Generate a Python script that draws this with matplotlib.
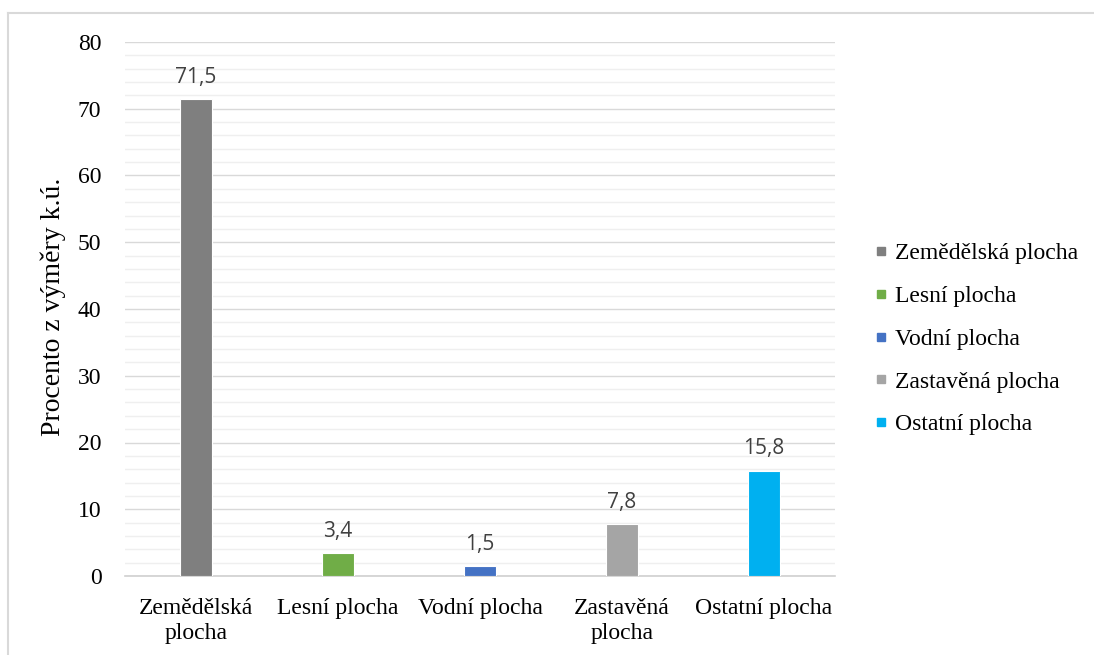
import matplotlib
matplotlib.use("Agg")
import matplotlib.pyplot as plt
from matplotlib.lines import Line2D
from matplotlib.ticker import MultipleLocator

# Land-use shares of the cadastral area (%)
categories = ["Zemědělská plocha", "Lesní plocha", "Vodní plocha",
              "Zastavěná plocha", "Ostatní plocha"]
tick_labels = ["Zemědělská\nplocha", "Lesní plocha", "Vodní plocha",
               "Zastavěná\nplocha", "Ostatní plocha"]
values = [71.5, 3.4, 1.5, 7.8, 15.8]
colors = ["#7f7f7f", "#70ad47", "#4472c4", "#a5a5a5", "#00b0f0"]

W, H = 1094, 655
fig = plt.figure(figsize=(W / 100, H / 100), dpi=100)
serif = "Liberation Serif"
label_font = "Open Sans"
FS = 17

ax = fig.add_axes([125 / W, 1 - 576 / H, (835 - 125) / W, (576 - 42) / H])

x = list(range(len(categories)))
ax.bar(x, values, width=0.225, color=colors, edgecolor="white",
       linewidth=0.8, zorder=3)

for xi, v in zip(x, values):
    ax.annotate(f"{v:.1f}".replace(".", ","), (xi, v), xytext=(0, 8),
                textcoords="offset points", ha="center", va="bottom",
                fontsize=15, color="#404040", family=label_font, zorder=4)

ax.set_xlim(-0.5, len(categories) - 0.5)
ax.set_ylim(0, 80)
ax.yaxis.set_major_locator(MultipleLocator(10))
ax.yaxis.set_minor_locator(MultipleLocator(2))
ax.grid(axis="y", which="major", color="#d9d9d9", linewidth=1.0, zorder=0)
ax.grid(axis="y", which="minor", color="#efefef", linewidth=1.0, zorder=0)

for side in ("top", "right", "left"):
    ax.spines[side].set_visible(False)
ax.spines["bottom"].set_color("#d0d0d0")
ax.spines["bottom"].set_linewidth(1.2)

ax.set_xticks(x)
ax.set_xticklabels(tick_labels, family=serif, fontsize=FS, linespacing=1.25)
ax.tick_params(axis="x", length=0, pad=16)
ax.tick_params(axis="y", which="both", length=0, pad=17)
for t in ax.get_yticklabels():
    t.set_family(serif)
    t.set_fontsize(FS)

fig.text(53 / W, 1 - 307 / H, "Procento z výměry k.ú.", rotation=90,
         ha="center", va="center", family=serif, fontsize=20)

handles = [Line2D([], [], marker="s", linestyle="none", markersize=5.5,
                  markerfacecolor=c, markeredgecolor=c) for c in colors]
fig.legend(handles, categories, loc="center left",
           bbox_to_anchor=(862 / W, 1 - 339 / H), frameon=False,
           prop={"family": serif, "size": FS}, handlelength=0.6,
           handletextpad=0.3, labelspacing=0.9, borderpad=0)

# thin chart-area frame along top and left
fig.add_artist(Line2D([8 / W, 1.0], [1 - 12.5 / H] * 2,
                      transform=fig.transFigure, color="#d9d9d9", lw=1.5))
fig.add_artist(Line2D([8 / W] * 2, [0.0, 1 - 12.5 / H],
                      transform=fig.transFigure, color="#d9d9d9", lw=1.5))

fig.savefig("out.png", dpi=100, facecolor="white")
